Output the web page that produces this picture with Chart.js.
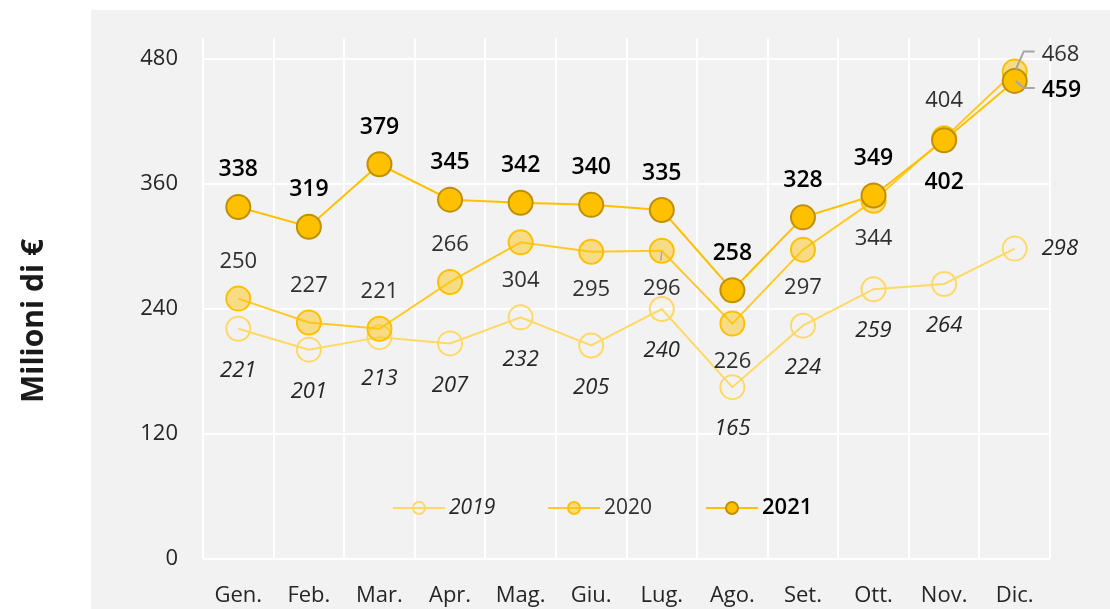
<!DOCTYPE html>
<html>
<head>
<meta charset="utf-8">
<script src="https://cdn.jsdelivr.net/npm/chart.js@4/dist/chart.umd.min.js"></script>
<style>
  html, body { margin: 0; padding: 0; background: #fff; }
  #wrap { width: 1110px; height: 609px; }
</style>
</head>
<body>
<div id="wrap"><canvas id="myChart" width="1110" height="609"></canvas></div>
<script>
const months = ['Gen.', 'Feb.', 'Mar.', 'Apr.', 'Mag.', 'Giu.', 'Lug.', 'Ago.', 'Set.', 'Ott.', 'Nov.', 'Dic.']
const vals2019 = [221, 201, 213, 207, 232, 205, 240, 165, 224, 259, 264, 298]
const vals2020 = [250, 227, 221, 266, 304, 295, 296, 226, 297, 344, 404, 468]
const vals2021 = [338, 319, 379, 345, 342, 340, 335, 258, 328, 349, 402, 459]
const yTicks = [0, 120, 240, 360, 480]

// where each value label goes: a = above, b = below, r = right, ru/rd = right with leader line
const lbl2019 = ['b', 'b', 'b', 'b', 'b', 'b', 'b', 'b', 'b', 'b', 'b', 'r']
const lbl2020 = ['a', 'a', 'a', 'a', 'b', 'b', 'bl', 'b', 'b', 'b', 'a', 'ru']
const lbl2021 = ['a', 'a', 'a', 'a', 'a', 'a', 'a', 'a', 'a', 'a', 'b', 'rd']

const FONT = '"Open Sans", "Noto Sans", sans-serif'
const GOLD = '#FFC000'

const panelBg = {
    id: 'panelBg',
    beforeDraw(chart) {
        const ctx = chart.ctx
        ctx.save()
        ctx.fillStyle = '#f2f2f2'
        ctx.fillRect(91, 10, chart.width - 91, chart.height - 10)
        ctx.restore()
    }
}

const valueLabels = {
    id: 'valueLabels',
    afterDatasetsDraw(chart) {
        const ctx = chart.ctx
        const specs = [
            { pos: lbl2019, font: 'italic 400 22px ' + FONT, color: '#262626', below: 42 },
            { pos: lbl2020, font: '400 22px ' + FONT, color: '#303030', below: 38 },
            { pos: lbl2021, font: '600 23px ' + FONT, color: '#000', below: 42 }
        ]
        ctx.save()
        chart.data.datasets.forEach((ds, i) => {
            const spec = specs[i]
            const meta = chart.getDatasetMeta(i)
            ctx.font = spec.font
            ctx.fillStyle = spec.color
            ctx.textBaseline = 'middle'
            meta.data.forEach((pt, j) => {
                const p = spec.pos[j]
                const txt = String(ds.data[j])
                let x = pt.x, y = pt.y
                ctx.textAlign = 'center'
                if (p === 'a') {
                    y -= 37
                } else if (p === 'b' || p === 'bl') {
                    y += spec.below
                    if (p === 'bl') {
                        ctx.strokeStyle = '#a6a6a6'
                        ctx.lineWidth = 1.5
                        ctx.beginPath()
                        ctx.moveTo(pt.x, pt.y + 1)
                        ctx.lineTo(pt.x - 1, pt.y + 10)
                        ctx.stroke()
                    }
                } else {
                    ctx.textAlign = 'left'
                    x += 27
                    if (p === 'ru' || p === 'rd') {
                        const ly = p === 'ru' ? -20 : 7
                        ctx.strokeStyle = '#a6a6a6'
                        ctx.lineWidth = 2
                        ctx.beginPath()
                        ctx.moveTo(pt.x + 1, pt.y + (p === 'ru' ? -2 : 0))
                        ctx.lineTo(pt.x + 9, pt.y + ly)
                        ctx.lineTo(pt.x + 20, pt.y + ly)
                        ctx.stroke()
                        y += ly + 3
                    }
                }
                ctx.fillText(txt, x, y)
            })
        })
        ctx.restore()
    }
}

const legendAndTitle = {
    id: 'legendAndTitle',
    afterDraw(chart) {
        const ctx = chart.ctx
        ctx.save()
        // y axis title
        ctx.translate(43, 321)
        ctx.rotate(-Math.PI / 2)
        ctx.font = '700 30px ' + FONT
        ctx.fillStyle = '#1a1a1a'
        ctx.textAlign = 'center'
        ctx.textBaseline = 'alphabetic'
        ctx.fillText('Milioni di €', 0, 0)
        ctx.restore()

        // legend
        const items = [
            { x: 393, ds: chart.data.datasets[0], font: 'italic 400 21px ' + FONT, color: '#262626' },
            { x: 548, ds: chart.data.datasets[1], font: '400 21px ' + FONT, color: '#303030' },
            { x: 706, ds: chart.data.datasets[2], font: '600 22px ' + FONT, color: '#000' }
        ]
        const y = 508
        ctx.save()
        items.forEach(it => {
            ctx.strokeStyle = it.ds.borderColor
            ctx.lineWidth = 2
            ctx.beginPath()
            ctx.moveTo(it.x, y)
            ctx.lineTo(it.x + 52, y)
            ctx.stroke()
            ctx.beginPath()
            ctx.arc(it.x + 26, y, 6, 0, Math.PI * 2)
            ctx.fillStyle = it.ds.pointBackgroundColor
            ctx.fill()
            ctx.strokeStyle = it.ds.pointBorderColor
            ctx.stroke()
            ctx.font = it.font
            ctx.fillStyle = it.color
            ctx.textAlign = 'left'
            ctx.textBaseline = 'middle'
            ctx.fillText(it.ds.label, it.x + 56, y)
        })
        ctx.restore()
    }
}

const ctx = document.getElementById('myChart').getContext('2d')
const myChart = new Chart(ctx, {
    type: 'line',
    data: {
        labels: months,
        datasets: [{
            label: '2019',
            data: vals2019,
            order: 3,
            borderColor: '#FFD966',
            borderWidth: 2,
            pointRadius: 12,
            pointBorderWidth: 2,
            pointBorderColor: '#FFD966',
            pointBackgroundColor: 'rgba(0,0,0,0)'
        }, {
            label: '2020',
            data: vals2020,
            order: 2,
            borderColor: '#FFCA28',
            borderWidth: 2,
            pointRadius: 12,
            pointBorderWidth: 2,
            pointBorderColor: GOLD,
            pointBackgroundColor: 'rgba(255, 192, 0, 0.45)'
        }, {
            label: '2021',
            data: vals2021,
            order: 1,
            borderColor: GOLD,
            borderWidth: 2,
            pointRadius: 12,
            pointBorderWidth: 2,
            pointBorderColor: '#BF9000',
            pointBackgroundColor: GOLD
        }]
    },
    options: {
        responsive: false,
        animation: false,
        devicePixelRatio: 1,
        layout: { padding: { top: 33, right: 60, left: 0, bottom: 0 } },
        plugins: { legend: { display: false }, tooltip: { enabled: false } },
        scales: {
            x: {
                offset: true,
                grid: { offset: true, color: '#ffffff', lineWidth: 2, drawTicks: false },
                border: { display: false },
                ticks: { color: '#262626', font: { family: FONT, size: 22 }, padding: 24, maxRotation: 0 },
                afterFit(scale) { scale.height = 50 }
            },
            y: {
                min: 0,
                max: 500,
                grid: { color: '#ffffff', lineWidth: 2, drawTicks: false },
                border: { display: false },
                ticks: { stepSize: 120, color: '#262626', font: { family: FONT, size: 22 }, padding: 25 },
                afterBuildTicks(scale) {
                    scale.ticks = yTicks.map(v => ({ value: v }))
                },
                afterFit(scale) { scale.width = 203 }
            }
        }
    },
    plugins: [panelBg, valueLabels, legendAndTitle]
})
</script>
</body>
</html>
